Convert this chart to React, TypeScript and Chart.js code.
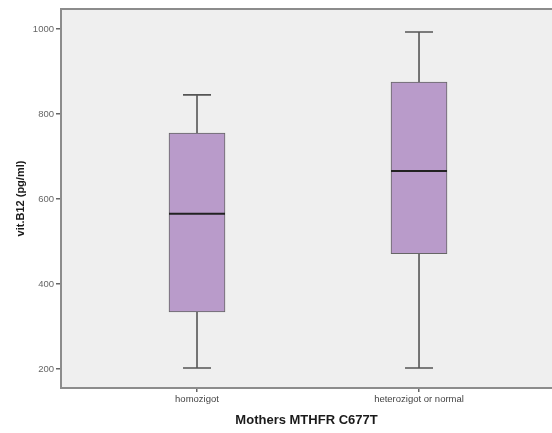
import React, { useEffect, useRef } from "react";
import { Chart, registerables } from "chart.js";

Chart.register(...registerables);

const categories = ["homozigot", "heterozigot or normal"];
const minValues = [202, 202];
const q1Values = [334, 471];
const medianValues = [565, 666];
const q3Values = [755, 875];
const maxValues = [845, 993];
const yTicks = [200, 400, 600, 800, 1000];

const boxPlugin = {
  id: "boxPlugin",
  beforeDraw(chart: any) {
    const { ctx, chartArea } = chart;
    ctx.save();
    ctx.fillStyle = "#efefef";
    ctx.fillRect(chartArea.left, chartArea.top, chartArea.right - chartArea.left, chartArea.bottom - chartArea.top);
    ctx.strokeStyle = "#8c8c8c";
    ctx.lineWidth = 2;
    ctx.beginPath();
    ctx.moveTo(chartArea.left, chartArea.top);
    ctx.lineTo(chartArea.right, chartArea.top);
    ctx.stroke();
    ctx.restore();
  },
  beforeDatasetsDraw(chart: any) {
    const { ctx, scales } = chart;
    const x = scales.x;
    const y = scales.y;
    ctx.save();
    ctx.strokeStyle = "#555555";
    ctx.lineWidth = 1.6;
    categories.forEach((_, i) => {
      const cx = x.getPixelForValue(i + 1);
      const half = 14;
      const yMin = y.getPixelForValue(minValues[i]);
      const yMax = y.getPixelForValue(maxValues[i]);
      const yQ1 = y.getPixelForValue(q1Values[i]);
      const yQ3 = y.getPixelForValue(q3Values[i]);
      ctx.beginPath();
      ctx.moveTo(cx, yMax);
      ctx.lineTo(cx, yQ3);
      ctx.moveTo(cx, yQ1);
      ctx.lineTo(cx, yMin);
      ctx.moveTo(cx - half, yMax);
      ctx.lineTo(cx + half, yMax);
      ctx.moveTo(cx - half, yMin);
      ctx.lineTo(cx + half, yMin);
      ctx.stroke();
    });
    ctx.restore();
  },
  afterDatasetsDraw(chart: any) {
    const { ctx, scales } = chart;
    const x = scales.x;
    const y = scales.y;
    ctx.save();
    ctx.strokeStyle = "#222222";
    ctx.lineWidth = 2;
    categories.forEach((_, i) => {
      const cx = x.getPixelForValue(i + 1);
      const ym = y.getPixelForValue(medianValues[i]);
      ctx.beginPath();
      ctx.moveTo(cx - 28, ym);
      ctx.lineTo(cx + 28, ym);
      ctx.stroke();
    });
    ctx.restore();
  },
};

export default function App() {
  const ref = useRef<HTMLCanvasElement>(null);
  useEffect(() => {
    if (!ref.current) return;
    const chart = new Chart(ref.current, {
      type: "bar",
      data: {
        datasets: [
          {
            data: categories.map((_, i) => ({ x: i + 1, y: [q1Values[i], q3Values[i]] })) as any,
            backgroundColor: "#b99bca",
            borderColor: "#666666",
            borderWidth: 1,
            borderSkipped: false,
            barThickness: 56,
          },
        ],
      },
      options: {
        animation: false,
        responsive: false,
        devicePixelRatio: 1,
        layout: { padding: { top: 9, right: 0, left: 0, bottom: 0 } },
        plugins: { legend: { display: false }, tooltip: { enabled: false } },
        scales: {
          x: {
            type: "linear",
            offset: false,
            min: 0.3874,
            max: 2.599,
            afterBuildTicks: (scale: any) => {
              scale.ticks = categories.map((_, i) => ({ value: i + 1 }));
            },
            afterFit: (scale: any) => {
              scale.height = 45;
            },
            ticks: {
              callback: (v: any) => categories[Math.round(Number(v)) - 1] ?? "",
              color: "#444444",
              font: { family: "Liberation Sans, Arial, sans-serif", size: 9.5 },
              padding: 2,
              maxRotation: 0,
              autoSkip: false,
            },
            grid: { drawOnChartArea: false, offset: false, tickLength: 4, color: "#666666", lineWidth: 1.5 },
            border: { color: "#8c8c8c", width: 2 },
            title: {
              display: true,
              text: "Mothers MTHFR C677T",
              color: "#1a1a1a",
              font: { family: "Liberation Sans, Arial, sans-serif", size: 13, weight: "bold" },
              padding: { top: 0, bottom: 5 },
            },
          },
          y: {
            min: 155,
            max: 1047,
            afterBuildTicks: (scale: any) => {
              scale.ticks = yTicks.map((v) => ({ value: v }));
            },
            afterFit: (scale: any) => {
              scale.width = 61;
            },
            ticks: {
              callback: (v: any) => String(v),
              color: "#666666",
              font: { family: "Liberation Sans, Arial, sans-serif", size: 9.5 },
              padding: 2,
            },
            grid: { drawOnChartArea: false, tickLength: 5, color: "#666666", lineWidth: 1.5 },
            border: { color: "#8c8c8c", width: 2 },
            title: {
              display: true,
              text: "vit.B12 (pg/ml)",
              color: "#1a1a1a",
              font: { family: "Liberation Sans, Arial, sans-serif", size: 11, weight: "bold" },
              padding: { top: 14, bottom: 0 },
            },
          },
        },
      },
      plugins: [boxPlugin],
    });
    return () => chart.destroy();
  }, []);
  return (
    <div style={{ position: "absolute", left: 0, top: 0, width: 552, height: 433, background: "#ffffff" }}>
      <canvas ref={ref} width={552} height={433} />
    </div>
  );
}
